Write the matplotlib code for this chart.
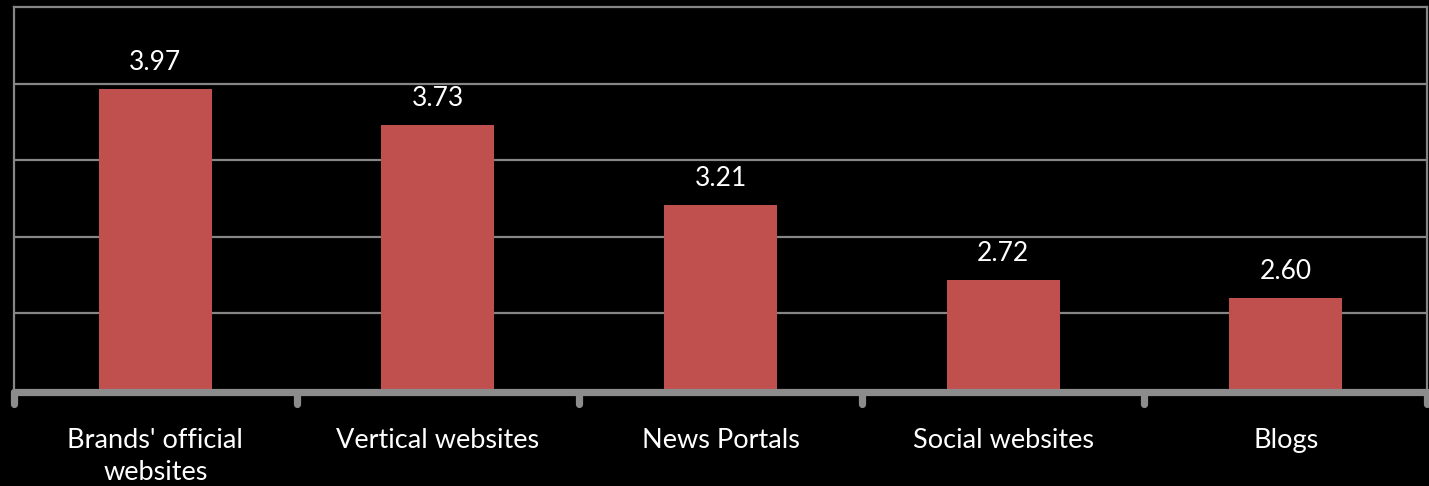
import matplotlib
matplotlib.use("Agg")
import matplotlib.pyplot as plt

categories = ["Brands' official\nwebsites", "Vertical websites", "News Portals",
              "Social websites", "Blogs"]
values = [3.97, 3.73, 3.21, 2.72, 2.60]
value_labels = ["3.97", "3.73", "3.21", "2.72", "2.60"]

plt.rcParams['font.family'] = ['Lato', 'DejaVu Sans']

W, H = 1429, 486
fig = plt.figure(figsize=(W / 100, H / 100), dpi=100, facecolor='black')
ax = fig.add_axes([14 / W, (H - 390) / H, (1427 - 14) / W, (390 - 7.5) / H])
ax.set_facecolor('black')

grid_color = '#868686'
x = range(len(categories))
bars = ax.bar(x, values, width=0.4, color='#C0504D', zorder=3)

ax.set_xlim(-0.5, len(categories) - 0.5)
ax.set_ylim(2.0, 4.5)
ax.set_yticks([2.5, 3.0, 3.5, 4.0])
ax.yaxis.grid(True, color=grid_color, linewidth=1.6, zorder=0)
ax.tick_params(axis='y', left=False, labelleft=False)

for side in ('left', 'right', 'top'):
    ax.spines[side].set_color(grid_color)
    ax.spines[side].set_linewidth(1.6)
ax.spines['bottom'].set_visible(False)

# Thick baseline with rounded tick marks at category boundaries
base_kw = dict(color='#8c8c8c', linewidth=5.2, solid_capstyle='round',
               clip_on=False, zorder=4, transform=ax.get_xaxis_transform())
ax.plot([-0.5, len(categories) - 0.5], [-0.006, -0.006], **base_kw)
for b in [i - 0.5 for i in range(len(categories) + 1)]:
    ax.plot([b, b], [-0.006, -0.036], **base_kw)

ax.set_xticks(list(x))
ax.set_xticklabels(categories, color='white', fontsize=19.5, linespacing=1.35)
ax.tick_params(axis='x', length=0, pad=27)

ax.bar_label(bars, labels=value_labels, padding=10, color='white', fontsize=19)

fig.savefig('out.png', dpi=100, facecolor='black')
